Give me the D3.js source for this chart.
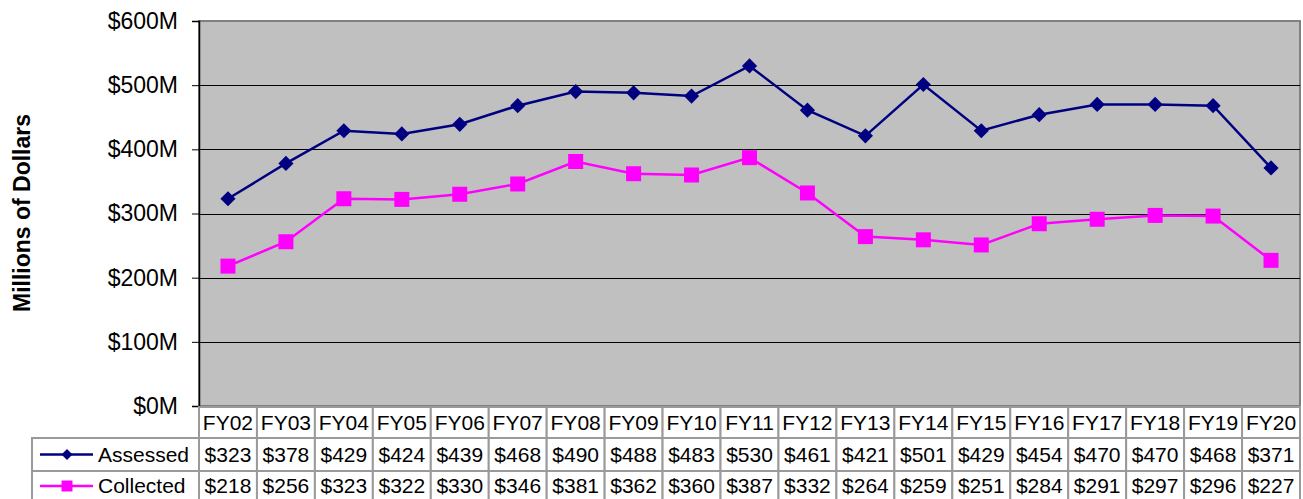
<!DOCTYPE html>
<html>
<head>
<meta charset="utf-8">
<script src="https://cdn.jsdelivr.net/npm/d3@7"></script>
<style>
  body { margin: 0; background: #fff; }
  svg { display: block; font-family: "Liberation Sans", Arial, sans-serif; }
</style>
</head>
<body>
<div id="chart"></div>
<script>
// data
var years = ["FY02","FY03","FY04","FY05","FY06","FY07","FY08","FY09","FY10","FY11",
             "FY12","FY13","FY14","FY15","FY16","FY17","FY18","FY19","FY20"];
var assessed  = [323,378,429,424,439,468,490,488,483,530,461,421,501,429,454,470,470,468,371];
var collected = [218,256,323,322,330,346,381,362,360,387,332,264,259,251,284,291,297,296,227];
var yTicks = [0,100,200,300,400,500,600];

// diamond = square turned 45deg
var series = [
  {name: "Assessed",  values: assessed,  color: "#000080", size: 115, rot: 45, legendSize: 60},
  {name: "Collected", values: collected, color: "#ff00ff", size: 225, rot: 0,  legendSize: 120}
];

// layout
var W = 1303, H = 499;
var plot = {left: 199, top: 21, right: 1300, bottom: 406};
var legendLeft = 32;
var rowTops = [407, 438, 471, 504];

var svg = d3.select("#chart").append("svg")
  .attr("width", W).attr("height", H);

var x = d3.scaleBand()
  .domain(years)
  .range([plot.left, plot.right]);

var y = d3.scaleLinear()
  .domain([0, 600])
  .range([plot.bottom, plot.top]);

// plot background
svg.append("rect")
  .attr("x", plot.left).attr("y", plot.top)
  .attr("width", plot.right - plot.left).attr("height", plot.bottom - plot.top)
  .attr("fill", "#c0c0c0")
  .attr("stroke", "#808080").attr("stroke-width", 2);

// gridlines
svg.append("g")
  .selectAll("line")
  .data(yTicks.filter(function(d) { return d > 0 && d < 600; }))
  .join("line")
    .attr("x1", plot.left).attr("x2", plot.right)
    .attr("y1", function(d) { return Math.round(y(d)) + 0.5; })
    .attr("y2", function(d) { return Math.round(y(d)) + 0.5; })
    .attr("stroke", "#000").attr("stroke-width", 1);

// y axis
var yAxis = svg.append("g")
  .attr("transform", "translate(" + plot.left + ",0)")
  .call(d3.axisLeft(y)
    .tickValues(yTicks)
    .tickSize(7)
    .tickPadding(14)
    .tickFormat(function(d) { return "$" + d + "M"; }));
yAxis.attr("font-size", 23).attr("font-family", "Liberation Sans, Arial, sans-serif");
yAxis.select(".domain").attr("stroke", "#000").attr("stroke-width", 1.5);
yAxis.selectAll(".tick line").attr("stroke", "#000");
yAxis.selectAll("text").attr("fill", "#000");

// y title
svg.append("text")
  .attr("transform", "translate(30,213) rotate(-90)")
  .attr("text-anchor", "middle")
  .attr("font-size", 23)
  .attr("font-weight", "bold")
  .text("Millions of Dollars");

// lines
var lineFunc = d3.line()
  .x(function(d, i) { return x(years[i]) + x.bandwidth() / 2; })
  .y(function(d) { return y(d); });

series.forEach(function(s) {
  svg.append("path")
    .attr("d", lineFunc(s.values))
    .attr("fill", "none")
    .attr("stroke", s.color)
    .attr("stroke-width", 2.5);
  svg.append("g")
    .selectAll("path")
    .data(s.values)
    .join("path")
      .attr("d", d3.symbol().type(d3.symbolSquare).size(s.size))
      .attr("transform", function(d, i) {
        return "translate(" + (x(years[i]) + x.bandwidth() / 2) + "," + y(d) + ") rotate(" + s.rot + ")";
      })
      .attr("fill", s.color);
});

// data table
var table = svg.append("g");
var gridColor = "#9a9a9a";
var fs = 21;

table.selectAll("rect.hdr")
  .data(years)
  .join("rect")
    .attr("class", "hdr")
    .attr("x", function(d) { return x(d); })
    .attr("y", rowTops[0])
    .attr("width", x.bandwidth())
    .attr("height", rowTops[1] - rowTops[0])
    .attr("fill", "#fff").attr("stroke", gridColor).attr("stroke-width", 2);

table.selectAll("text.hdr")
  .data(years)
  .join("text")
    .attr("class", "hdr")
    .attr("x", function(d) { return x(d) + x.bandwidth() / 2; })
    .attr("y", (rowTops[0] + rowTops[1]) / 2 + 7)
    .attr("text-anchor", "middle")
    .attr("font-size", fs)
    .text(function(d) { return d; });

series.forEach(function(s, r) {
  var top = rowTops[r + 1], bot = rowTops[r + 2];
  var mid = (top + bot) / 2;
  if (bot > H) mid = top + 15;
  // legend cell
  table.append("rect")
    .attr("x", legendLeft).attr("y", top)
    .attr("width", plot.left - legendLeft).attr("height", bot - top)
    .attr("fill", "#fff").attr("stroke", gridColor).attr("stroke-width", 2);
  table.append("line")
    .attr("x1", 40).attr("x2", 93)
    .attr("y1", mid).attr("y2", mid)
    .attr("stroke", s.color).attr("stroke-width", 2.5);
  table.append("path")
    .attr("d", d3.symbol().type(d3.symbolSquare).size(s.legendSize))
    .attr("transform", "translate(67," + mid + ") rotate(" + s.rot + ")")
    .attr("fill", s.color);
  table.append("text")
    .attr("x", 98).attr("y", mid + 7)
    .attr("font-size", fs)
    .text(s.name);

  table.selectAll("rect.r" + r)
    .data(s.values)
    .join("rect")
      .attr("class", "r" + r)
      .attr("x", function(d, i) { return x(years[i]); })
      .attr("y", top)
      .attr("width", x.bandwidth())
      .attr("height", bot - top)
      .attr("fill", "#fff").attr("stroke", gridColor).attr("stroke-width", 2);

  table.selectAll("text.r" + r)
    .data(s.values)
    .join("text")
      .attr("class", "r" + r)
      .attr("x", function(d, i) { return x(years[i]) + x.bandwidth() / 2; })
      .attr("y", mid + 7)
      .attr("text-anchor", "middle")
      .attr("font-size", fs)
      .text(function(d) { return "$" + d; });
});
</script>
</body>
</html>
